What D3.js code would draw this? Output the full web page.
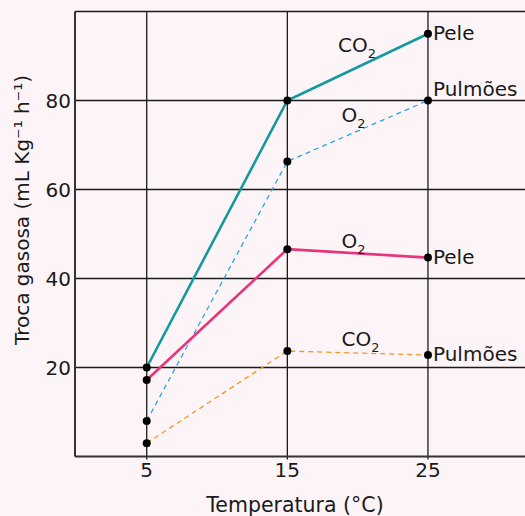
<!DOCTYPE html>
<html>
<head>
<meta charset="utf-8">
<script src="https://cdn.jsdelivr.net/npm/d3@7"></script>
<style>
  html, body { margin: 0; padding: 0; background: #fdf4f7; }
  svg { display: block; font-family: "DejaVu Sans", Verdana, sans-serif; }
</style>
</head>
<body>
<div id="chart"></div>
<script>
let width = 525, height = 516

// data
let temps = [5, 15, 25]
let co2Pele = [20, 80, 95]
let o2Pulmoes = [8, 66.3, 80]
let o2Pele = [17.2, 46.6, 44.7]
let co2Pulmoes = [3, 23.7, 22.8]
let yTicks = [20, 40, 60, 80]

let series = [
  { gas: 'O', values: o2Pulmoes, organ: 'Pulmões', color: '#2aa6e6', width: 1.3, dash: '5,4' },
  { gas: 'CO', values: co2Pulmoes, organ: 'Pulmões', color: '#f7931e', width: 1.3, dash: '5,4' },
  { gas: 'CO', values: co2Pele, organ: 'Pele', color: '#14999f', width: 2.6, dash: null },
  { gas: 'O', values: o2Pele, organ: 'Pele', color: '#e8347a', width: 2.6, dash: null }
]

let x = d3.scaleLinear().domain([-0.1, 31.9]).range([75, 525])
let y = d3.scaleLinear().domain([0, 100]).range([456.5, 11.5])

let svg = d3.select('#chart').append('svg')
  .attr('width', width).attr('height', height)

svg.append('rect').attr('width', width).attr('height', height).attr('fill', '#fdf4f7')

// grid
let grid = svg.append('g').attr('stroke', '#1a1a1a').attr('stroke-width', 1.3)
grid.selectAll('.hline')
  .data(yTicks.concat([100]))
  .enter().append('line')
    .attr('x1', x(-0.1)).attr('x2', width)
    .attr('y1', d => y(d)).attr('y2', d => y(d))
grid.selectAll('.vline')
  .data(temps)
  .enter().append('line')
    .attr('x1', d => x(d)).attr('x2', d => x(d))
    .attr('y1', y(100)).attr('y2', y(0) + 3)

// axes lines
svg.append('line')
  .attr('x1', x(-0.1)).attr('x2', x(-0.1))
  .attr('y1', y(100)).attr('y2', y(0))
  .attr('stroke', '#333').attr('stroke-width', 2)
svg.append('line')
  .attr('x1', x(-0.1)).attr('x2', width)
  .attr('y1', y(0)).attr('y2', y(0))
  .attr('stroke', '#333').attr('stroke-width', 2)

// tick labels
svg.selectAll('.xtick')
  .data(temps)
  .enter().append('text')
    .attr('x', d => x(d)).attr('y', 477)
    .attr('text-anchor', 'middle')
    .style('font-size', '20px').style('fill', '#1a1a1a')
    .text(d => d)

svg.selectAll('.ytick')
  .data(yTicks)
  .enter().append('text')
    .attr('x', 71).attr('y', d => y(d))
    .attr('dy', '0.36em')
    .attr('text-anchor', 'end')
    .style('font-size', '20px').style('fill', '#1a1a1a')
    .text(d => d)

svg.append('text')
  .attr('x', 295).attr('y', 512)
  .attr('text-anchor', 'middle')
  .style('font-size', '20.5px').style('fill', '#1a1a1a')
  .text('Temperatura (°C)')

svg.append('text')
  .attr('transform', 'translate(29,210) rotate(-90)')
  .attr('text-anchor', 'middle')
  .style('font-size', '20px').style('fill', '#1a1a1a')
  .text('Troca gasosa (mL Kg⁻¹ h⁻¹)')

// lines
let line = d3.line()
  .x((d, i) => x(temps[i]))
  .y(d => y(d))

svg.selectAll('.serie')
  .data(series)
  .enter().append('path')
    .attr('d', d => line(d.values))
    .attr('fill', 'none')
    .attr('stroke', d => d.color)
    .attr('stroke-width', d => d.width)
    .attr('stroke-dasharray', d => d.dash)

// points
series.forEach(s => {
  svg.selectAll(null)
    .data(s.values)
    .enter().append('circle')
      .attr('cx', (d, i) => x(temps[i]))
      .attr('cy', d => y(d))
      .attr('r', 4)
      .attr('fill', '#000')
})

// gas labels (placed in data units above each segment)
let gasLabels = [
  { s: series[2], tx: 18.6, ty: 90.9 },
  { s: series[0], tx: 18.85, ty: 75.2 },
  { s: series[3], tx: 18.85, ty: 46.85 },
  { s: series[1], tx: 18.85, ty: 24.8 }
]
gasLabels.forEach(g => {
  let t = svg.append('text')
    .attr('x', x(g.tx)).attr('y', y(g.ty))
    .style('font-size', '20px').style('fill', '#1a1a1a')
  t.append('tspan').text(g.s.gas)
  t.append('tspan').attr('dy', 6).style('font-size', '13px').text('2')
})

// organ labels at the 25 °C end
svg.selectAll('.organ')
  .data(series)
  .enter().append('text')
    .attr('x', x(25) + 5)
    .attr('y', d => y(d.values[2]))
    .attr('dy', d => d.organ === 'Pulmões' && d.values[2] === 80 ? -5 : '0.3em')
    .style('font-size', '20px').style('fill', '#1a1a1a')
    .text(d => d.organ)
</script>
</body>
</html>
